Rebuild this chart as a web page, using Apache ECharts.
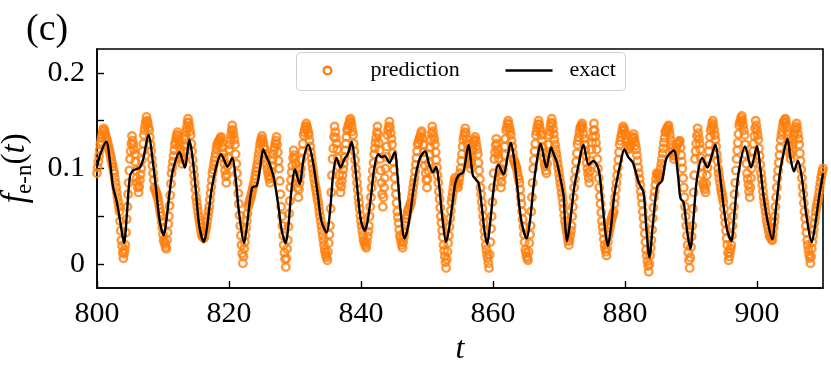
<!DOCTYPE html>
<html>
<head>
<meta charset="utf-8">
<script src="https://cdn.jsdelivr.net/npm/echarts@6/dist/echarts.min.js"></script>
<style>
  html, body { margin: 0; padding: 0; background: #fff; }
  #main { width: 831px; height: 372px; }
</style>
</head>
<body>
<div id="main"></div>
<script>
// tick labels
const xTicks = [800, 820, 840, 860, 880, 900];
const yTicks = [0, 0.1, 0.2];
const yTickMarks = [0, 0.05, 0.1, 0.15, 0.2];

// prediction: sampled every 0.1 from t = 800, values in units of 1e-3
const predStart = 800;
const predStep = 0.1;
const predictionMilli = [
  95,101,107,113,119,125,128,132,135,139,
  142,140,137,135,132,130,127,124,121,118,
  115,112,108,105,102,98,95,90,85,80,
  75,70,65,60,55,45,35,25,19,12,
  6,11,15,20,33,47,60,73,85,98,
  110,118,126,134,129,125,120,115,107,98,
  90,85,80,75,81,88,94,100,109,118,
  126,135,140,145,149,154,150,147,143,140,
  133,125,118,110,103,95,88,80,78,76,
  74,72,70,66,62,58,54,50,44,38,
  31,25,23,21,18,16,25,33,42,50,
  61,72,84,95,101,107,113,119,125,128,
  132,135,138,134,129,125,120,115,110,105,
  111,118,124,130,134,139,143,148,152,148,
  144,139,135,126,118,109,100,93,85,78,
  70,65,60,55,50,46,42,38,34,30,
  29,28,27,30,34,37,40,45,50,55,
  60,67,74,81,88,95,99,104,108,112,
  116,121,125,126,128,129,130,132,133,127,
  122,116,111,105,98,92,85,94,103,111,
  120,125,130,135,140,145,140,135,130,125,
  115,105,95,85,74,63,51,40,30,20,
  11,1,8,16,23,30,38,45,53,60,
  63,65,68,70,73,76,79,82,85,89,
  93,97,101,105,110,115,120,125,128,131,
  134,130,127,123,120,115,110,105,100,96,
  93,89,85,91,97,103,109,115,119,122,
  126,129,133,125,117,108,100,87,73,60,
  50,40,30,20,12,5,-3,6,16,25,
  39,53,66,80,88,96,103,111,119,114,
  110,105,100,90,80,70,78,85,93,100,
  109,118,126,135,138,141,144,147,144,141,
  138,135,129,123,117,111,105,100,95,90,
  85,81,77,73,69,65,60,55,50,45,
  40,35,30,25,20,15,12,9,7,4,
  13,22,31,40,58,75,93,110,121,133,
  144,138,132,126,120,111,102,93,84,75,
  81,87,93,99,105,112,119,126,133,140,
  142,145,147,150,152,148,144,139,135,126,
  118,109,100,93,85,78,70,64,58,51,
  45,40,35,30,25,23,21,19,17,23,
  29,34,40,50,60,70,80,89,98,106,
  115,121,127,132,138,144,136,127,119,110,
  98,85,73,60,70,80,90,100,112,123,
  135,140,144,149,143,137,131,125,116,107,
  99,90,81,73,64,55,49,43,36,30,
  27,23,20,17,23,29,34,40,44,48,
  51,55,57,59,61,63,65,70,75,80,
  85,90,97,104,111,118,125,127,130,132,
  134,137,139,132,125,117,110,103,95,88,
  80,89,98,106,115,122,130,137,144,139,
  134,130,125,117,109,101,93,85,76,68,
  59,50,43,35,28,20,14,8,2,-4,
  5,13,22,30,39,48,56,65,70,75,
  80,85,90,88,86,84,82,80,85,90,
  95,100,108,115,123,130,134,138,142,137,
  131,126,120,115,110,105,100,106,113,119,
  125,128,130,133,129,124,120,115,106,98,
  89,80,73,65,58,50,43,35,28,20,
  15,10,6,1,-4,10,23,37,50,65,
  80,95,110,117,124,131,126,120,115,110,
  100,90,80,86,93,99,105,114,123,131,
  140,143,147,150,146,142,139,135,129,123,
  116,110,108,106,104,102,100,96,92,89,
  85,78,70,63,55,47,39,31,23,15,
  12,8,6,4,13,22,31,40,55,70,
  85,100,109,118,126,135,139,143,146,150,
  146,142,139,135,129,123,117,111,105,102,
  98,95,105,115,125,135,139,144,148,152,
  147,141,136,130,125,120,115,110,105,100,
  95,90,85,80,75,70,64,58,51,45,
  41,37,33,28,24,20,25,30,35,40,
  50,60,70,80,89,98,107,116,125,129,
  133,138,142,144,145,147,142,136,131,125,
  119,113,106,100,95,90,85,97,108,120,
  127,133,140,147,140,134,127,120,110,100,
  90,80,71,63,54,45,39,33,26,20,
  16,13,9,16,23,30,34,38,41,45,
  48,50,53,55,63,70,78,85,93,101,
  109,117,125,129,133,136,140,144,142,140,
  137,135,131,128,124,120,121,123,124,125,
  128,131,133,136,132,128,124,120,114,108,
  101,95,89,83,76,70,63,55,48,40,
  32,23,15,9,3,-2,-8,0,9,17,
  25,36,48,59,70,76,83,89,95,94,
  93,91,90,95,100,105,110,116,121,127,
  132,138,139,141,142,144,145,140,135,130,
  125,121,118,114,110,113,116,119,122,125,
  126,127,128,129,122,114,107,100,90,80,
  70,60,50,40,30,20,12,4,-4,7,
  18,29,40,58,75,93,110,118,126,134,
  142,137,131,126,120,111,103,94,85,83,
  80,78,75,84,93,101,110,118,125,133,
  140,143,147,150,145,140,135,130,123,115,
  108,100,95,90,85,80,76,73,69,65,
  58,50,43,35,27,20,12,4,8,12,
  16,20,30,40,50,60,73,85,98,110,
  119,127,136,145,148,150,153,155,150,145,
  140,135,125,115,105,95,89,83,76,70,
  80,90,100,110,118,126,134,142,150,145,
  140,135,130,121,113,104,95,89,83,76,
  70,65,60,55,50,45,41,38,34,30,
  29,28,26,25,31,38,44,50,60,70,
  80,90,98,106,114,122,130,135,139,144,
  148,149,151,152,148,144,139,135,129,123,
  116,110,115,120,125,130,135,138,141,144,
  147,142,136,131,125,116,108,99,90,81,
  73,64,55,48,40,33,25,20,15,10,
  6,1,8,16,23,30,36,43,49,55,
  59,63,66,70,75,80,85,90,93,97,
  100
];

// exact curve: points, values in units of 1e-3
const exactT = [
  800,800.5,801.4,802,802.4,803,803.5,804.1,804.5,805,
  805.5,806.5,807,807.8,808.5,809,809.5,810.1,810.5,811,
  811.5,812.5,813.3,814,814.5,815,815.5,816.2,816.7,817.3,
  818,818.8,819.8,820.5,821,821.5,822.3,822.8,823.5,824.2,
  824.7,825.2,825.7,826.2,826.8,827.5,828,828.6,829,829.5,
  830,830.7,831.3,832,832.5,833,833.5,834,834.8,835.3,
  835.8,836.3,836.9,837.5,838,838.6,839,839.5,840,840.6,
  841,841.5,842,842.6,843.1,843.6,844.3,845.1,845.5,846,
  846.6,847,847.5,848,848.5,849,849.7,850.3,850.9,851.4,
  851.8,852.3,852.9,853.3,853.8,854.3,854.8,855.5,856.3,856.7,
  857,857.8,858.3,858.7,859.1,859.6,860.2,860.8,861.6,862.2,
  862.7,863.2,863.7,864.3,865.1,865.6,866.2,866.7,867.2,868.1,
  868.8,869.2,869.7,870.2,870.7,870.9,871.2,871.7,872.3,873,
  873.7,874.5,875.2,876,876.5,877,877.4,877.9,878.3,878.7,
  879.3,879.9,880.5,881.2,882.1,882.8,883.2,883.7,884.2,884.9,
  885.6,886.3,887.4,888,888.4,888.9,889.4,889.9,890.4,890.9,
  891.7,892.5,893,893.7,894.2,895,895.5,896.1,896.6,897.2,
  898.2,899.1,900,900.5,901,901.6,902.3,902.9,903.5,904,
  904.6,905.1,905.6,906.2,906.8,907.5,908.3,908.8,909.4,910
];
const exactMilli = [
  102,115,128,105,82,65,45,22,50,92,
  98,101,110,135,105,75,45,30,45,75,
  98,117,101,130,110,75,40,23,40,75,
  100,115,102,111,90,55,22,45,80,82,
  100,120,112,104,90,60,35,22,40,80,
  99,84,110,125,115,95,70,45,33,55,
  95,111,101,110,115,128,110,75,45,35,
  45,70,100,115,112,113,106,117,95,55,
  27,35,55,80,100,112,118,105,96,102,
  85,50,23,35,60,85,93,96,125,105,
  92,85,60,35,21,45,85,104,94,112,
  127,110,80,45,27,45,85,110,126,101,
  122,115,106,90,71,45,24,45,80,105,
  125,104,108,99,70,35,19,40,68,85,
  105,120,112,106,85,75,40,7,40,82,
  87,111,119,95,69,64,35,16,50,89,
  111,101,110,125,104,57,35,24,55,95,
  123,101,123,100,71,45,26,60,97,115,
  131,110,97,108,90,50,23,40,70,95
];

const orange = '#ff7f0e';
const serif = 'Liberation Serif';

const predData = predictionMilli.map((v, i) => [predStart + i * predStep, v / 1000]);
const exactData = exactT.map((t, i) => [t, exactMilli[i] / 1000]);

// legend box drawn by hand, like matplotlib's framed legend
const legendY = 70;
const legendGraphic = {
  type: 'group',
  left: 296,
  top: 52,
  z: 100,
  children: [
    { type: 'rect', shape: { x: 0, y: 0, width: 329, height: 38, r: 4 },
      style: { fill: '#fff', stroke: '#d0d0d0', lineWidth: 1 } },
    { type: 'circle', shape: { cx: 31, cy: legendY - 52, r: 3.8 },
      style: { fill: 'none', stroke: orange, lineWidth: 2.4 } },
    { type: 'text', x: 74, y: legendY - 52,
      style: { text: 'prediction', font: '22px "Liberation Serif"', fill: '#000', verticalAlign: 'middle' } },
    { type: 'line', shape: { x1: 209, y1: legendY - 52, x2: 256, y2: legendY - 52 },
      style: { stroke: '#000', lineWidth: 2.4 } },
    { type: 'text', x: 273, y: legendY - 52,
      style: { text: 'exact', font: '22px "Liberation Serif"', fill: '#000', verticalAlign: 'middle' } }
  ]
};

const chart = echarts.init(document.getElementById('main'), null, { renderer: 'canvas' });
chart.setOption({
  animation: false,
  backgroundColor: '#fff',
  title: {
    text: '(c)',
    left: 21,
    top: 6,
    textStyle: { fontFamily: serif, fontSize: 38, fontWeight: 'normal', color: '#000' }
  },
  legend: { show: false },
  graphic: [legendGraphic],
  grid: {
    left: 97,
    right: 8,
    top: 49,
    bottom: 84,
    show: true,
    borderColor: '#000',
    borderWidth: 1.6,
    outerBoundsMode: 'none'
  },
  xAxis: {
    type: 'value',
    min: 800,
    max: 910,
    name: 't',
    nameLocation: 'middle',
    nameGap: 44,
    nameTextStyle: { fontFamily: serif, fontSize: 32, fontStyle: 'italic', color: '#000' },
    axisLine: { show: true, onZero: false, lineStyle: { color: '#000', width: 1.6 } },
    axisTick: { show: true, inside: true, length: 7, customValues: xTicks, lineStyle: { color: '#000', width: 1.4 } },
    axisLabel: { customValues: xTicks, fontFamily: serif, fontSize: 30, color: '#000', margin: 11 },
    splitLine: { show: false }
  },
  yAxis: {
    type: 'value',
    min: -0.025,
    max: 0.225,
    name: '{f|f}{s|e-n}{p|(}{t|t}{p|)}',
    nameLocation: 'middle',
    nameRotate: 90,
    nameGap: 60,
    nameTextStyle: {
      color: '#000',
      rich: {
        f: { fontFamily: serif, fontSize: 35, fontStyle: 'italic', lineHeight: 42, color: '#000' },
        s: { fontFamily: serif, fontSize: 23, lineHeight: 21, verticalAlign: 'bottom', color: '#000' },
        p: { fontFamily: serif, fontSize: 33, lineHeight: 42, color: '#000' },
        t: { fontFamily: serif, fontSize: 33, fontStyle: 'italic', lineHeight: 42, color: '#000' }
      }
    },
    axisLine: { show: true, lineStyle: { color: '#000', width: 1.6 } },
    axisTick: { show: true, inside: true, length: 7, customValues: yTickMarks, lineStyle: { color: '#000', width: 1.4 } },
    axisLabel: { customValues: yTicks, fontFamily: serif, fontSize: 30, color: '#000', margin: 12 },
    splitLine: { show: false }
  },
  series: [
    {
      name: 'prediction',
      type: 'scatter',
      data: predData,
      symbol: 'circle',
      symbolSize: 7.5,
      itemStyle: { color: 'rgba(0,0,0,0)', borderColor: orange, borderWidth: 2.4 },
      z: 2
    },
    {
      name: 'exact',
      type: 'line',
      data: exactData,
      symbol: 'none',
      smooth: 0.3,
      lineStyle: { color: '#000', width: 2.4 },
      z: 3
    }
  ]
});
</script>
</body>
</html>
